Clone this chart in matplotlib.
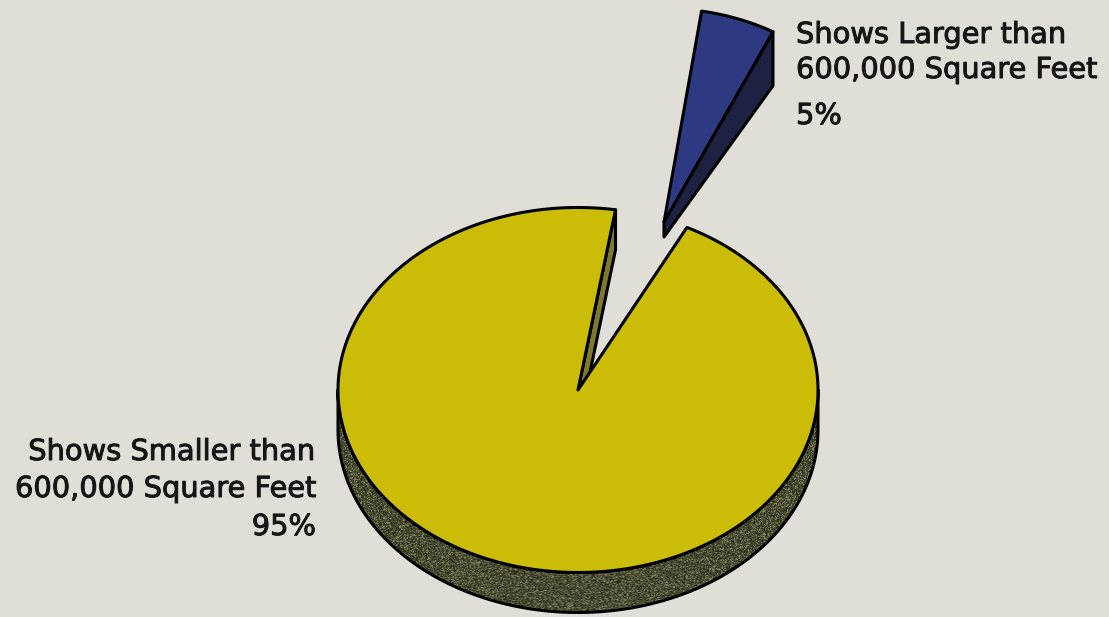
import numpy as np
import matplotlib.pyplot as plt
import matplotlib.patheffects as pe
from matplotlib.patches import Polygon

# slice data
categories = ["Shows Smaller than\n600,000 Square Feet", "Shows Larger than\n600,000 Square Feet"]
shares = [95, 5]
start_angle = 63  # degrees, where the small (exploded) slice begins, counter-clockwise

# pie geometry in pixel space
cx, cy = 578, 390
a, b = 240, 182.5
depth = 40
edge = dict(edgecolor="black", linewidth=2.2, joinstyle="round")

bg = "#e1ded7"
fig = plt.figure(figsize=(11.09, 6.17), dpi=100, facecolor=bg)
ax = fig.add_axes([0, 0, 1, 1])
ax.set_xlim(0, 1109)
ax.set_ylim(617, 0)
ax.axis("off")
ax.set_facecolor(bg)


def rim(th, x0, y0, sy=1.0):
    t = np.radians(th)
    return np.column_stack([x0 + a * np.cos(t), y0 - b * sy * np.sin(t)])


def speckled(poly, base, lo, hi, seed=0):
    # grainy fill clipped to the polygon
    x0, y0 = poly.min(axis=0)
    x1, y1 = poly.max(axis=0)
    w, h = int(x1 - x0) + 1, int(y1 - y0) + 1
    rng = np.random.default_rng(seed)
    n = rng.random((h, w))
    img = np.empty((h, w, 3))
    img[:] = base
    img[n > 0.82] = hi
    img[n < 0.25] = lo
    im = ax.imshow(img, extent=(x0, x1, y1, y0), interpolation="bilinear", zorder=1)
    patch = Polygon(poly, closed=True, facecolor="none", **edge, zorder=2)
    ax.add_patch(patch)
    im.set_clip_path(patch)


small_sweep = shares[1] * 3.6
big_start = start_angle + small_sweep
big_end = start_angle + 360

# --- exploded small slice (drawn with a slight perspective stretch) ---
off_x, off_y, sy = 86, -168, 1.17
d_apex, d_rim = 15, 54
apex = np.array([cx + off_x, cy + off_y])
arc = rim(np.linspace(start_angle, start_angle + small_sweep, 30), apex[0], apex[1], sy)
r0 = arc[0]
side = np.array([apex, r0, r0 + [0, d_rim], apex + [0, d_apex]])
ax.add_patch(Polygon(side, closed=True, facecolor="#1d2142", **edge, zorder=2))
ax.add_patch(Polygon(np.vstack([apex, arc]), closed=True, facecolor="#2d3a82", **edge, zorder=3))

# --- large slice ---
c = np.array([cx, cy])
r_start = rim(np.array([big_start]), cx, cy)[0]
cut = np.array([c, r_start, r_start + [0, depth], c + [0, depth]])
ax.add_patch(Polygon(cut, closed=True, facecolor="#7d7a2e", **edge, zorder=2))

front = rim(np.linspace(180, 360, 120), cx, cy)
side = np.vstack([front, (front + [0, depth])[::-1]])
speckled(side, np.array([76, 78, 50]) / 255, np.array([42, 44, 28]) / 255,
         np.array([132, 132, 96]) / 255)

top = rim(np.linspace(big_start, big_end, 400), cx, cy)
ax.add_patch(Polygon(np.vstack([c, top]), closed=True, facecolor="#cbbc08", **edge, zorder=4))

# --- labels ---
txt = dict(fontsize=20.8, color="#161616", family="DejaVu Sans", va="baseline",
           path_effects=[pe.withStroke(linewidth=0.7, foreground="#161616")])
left_lines = categories[0].split("\n") + [f"{shares[0]}%"]
for line, yb in zip(left_lines, [460, 497, 535]):
    ax.text(316, yb, line, ha="right", **txt)
right_lines = categories[1].split("\n") + [f"{shares[1]}%"]
for line, yb in zip(right_lines, [43, 78, 124]):
    ax.text(796, yb, line, ha="left", **txt)

fig.savefig("out.png", dpi=100, facecolor=bg)
